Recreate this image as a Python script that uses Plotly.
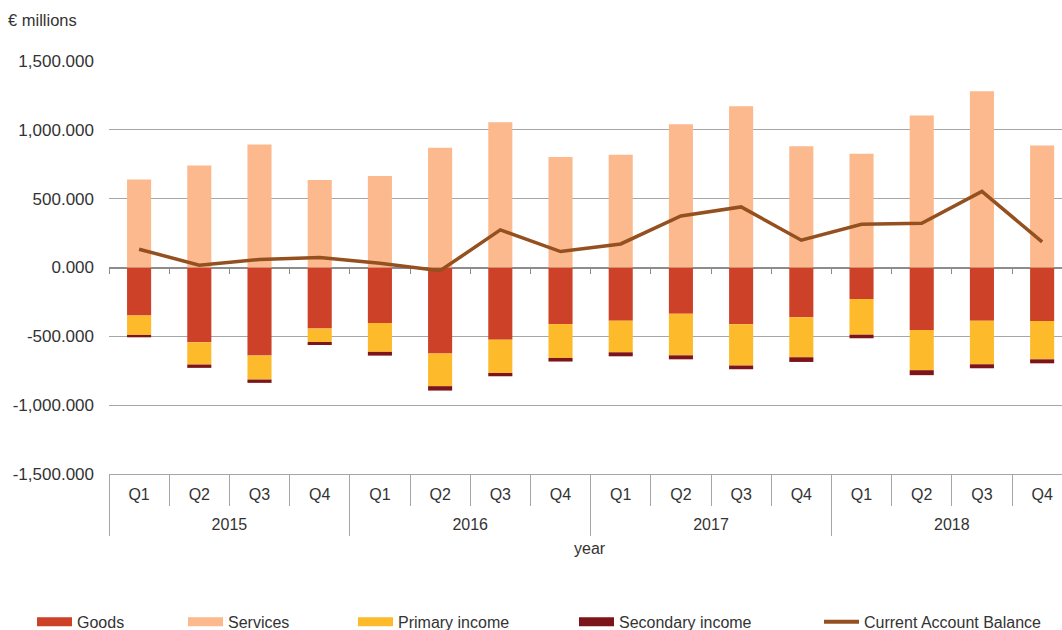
import plotly.graph_objects as go

years = ["2015", "2016", "2017", "2018"]
quarters = ["Q1", "Q2", "Q3", "Q4"]
categories = [f"{y} {q}" for y in years for q in quarters]
quarter_labels = [q for y in years for q in quarters]

goods = [-348, -543, -640, -444, -403, -625, -524, -411, -386, -336, -413, -362, -229, -454, -386, -389]
services = [640, 741, 894, 635, 664, 869, 1055, 802, 819, 1041, 1171, 881, 826, 1104, 1280, 886]
primary_income = [-142, -162, -174, -97, -210, -237, -242, -246, -230, -302, -299, -290, -259, -292, -317, -278]
secondary_income = [-17, -24, -24, -22, -27, -32, -24, -26, -29, -29, -27, -34, -26, -36, -29, -29]
current_account = [133, 17, 58, 72, 31, -24, 273, 116, 171, 374, 440, 198, 314, 321, 553, 186]

y_ticks = [-1500, -1000, -500, 0, 500, 1000, 1500]
y_ticktext = ["-1,500.000", "-1,000.000", "-500.000", "0.000", "500.000", "1,000.000", "1,500.000"]

C_GOODS = "#CC4127"
C_SERV = "#FCB98D"
C_PRIM = "#FDBB2C"
C_SEC = "#7D1419"
C_LINE = "#95501F"
FONT = "Liberation Sans, Arial, sans-serif"
TXT = "#333333"
GRID = "#A6A6A6"

XR = [-0.5, 15.33]
fig = go.Figure()
for name, vals, col in [("Goods", goods, C_GOODS), ("Services", services, C_SERV),
                        ("Primary income", primary_income, C_PRIM),
                        ("Secondary income", secondary_income, C_SEC)]:
    fig.add_trace(go.Bar(x=categories, y=vals, name=name,
                         marker=dict(color=col, line=dict(width=0)), showlegend=False))
fig.add_trace(go.Scatter(x=categories, y=current_account, name="Current Account Balance",
                         mode="lines", line=dict(color=C_LINE, width=3.5), showlegend=False))

# legend entries (wide swatches), each placed like the reference
W = 953.0
legend_items = [("Goods", C_GOODS, 9, 38), ("Services", C_SERV, 9, 189),
                ("Primary income", C_PRIM, 9, 359), ("Secondary income", C_SEC, 9, 580),
                ("Current Account Balance", C_LINE, 4, 825)]
layout_legends = {}
for i, (name, col, lw, px) in enumerate(legend_items):
    key = "legend" if i == 0 else f"legend{i+1}"
    fig.add_trace(go.Scatter(x=[None], y=[None], xaxis="x2", name=name, mode="lines",
                             line=dict(color=col, width=lw), legend=key, showlegend=True))
    layout_legends[key] = dict(x=(px - 6 - 109) / W, xanchor="left", y=-0.317, yanchor="top",
                               orientation="h", font=dict(family=FONT, size=16, color=TXT),
                               bgcolor="rgba(0,0,0,0)", itemwidth=35)

year_centres = [i * 4 + 1.5 for i in range(len(years))]

fig.update_layout(
    width=1062, height=630,
    margin=dict(l=109, r=0, t=61, b=156, autoexpand=False),
    paper_bgcolor="white", plot_bgcolor="white",
    barmode="relative", bargap=0.6,
    font=dict(family=FONT, size=16, color=TXT),
    **layout_legends,
    # quarter labels
    xaxis=dict(type="category", range=XR, showgrid=False, tickmode="array",
               tickvals=categories, ticktext=quarter_labels, ticks="",
               showline=True, linecolor=GRID, linewidth=1, ticklabelstandoff=6,
               tickfont=dict(family=FONT, size=16, color=TXT)),
    # quarter separators
    xaxis2=dict(overlaying="x", anchor="free", position=0, range=XR,
                tickmode="linear", tick0=-0.5, dtick=1, ticks="outside", ticklen=31,
                tickcolor=GRID, showticklabels=False, showgrid=False, zeroline=False, showline=False),
    # year separators
    xaxis3=dict(overlaying="x", anchor="free", position=0, range=XR,
                tickmode="linear", tick0=-0.5, dtick=4, ticks="outside", ticklen=61,
                tickcolor=GRID, showticklabels=False, showgrid=False, zeroline=False, showline=False),
    # year labels
    xaxis4=dict(overlaying="x", anchor="free", position=0, range=XR,
                tickmode="array", tickvals=year_centres, ticktext=years, ticks="",
                ticklabelstandoff=39, showgrid=False, zeroline=False, showline=False,
                tickfont=dict(family=FONT, size=16, color=TXT)),
    # ticks on the zero line
    xaxis5=dict(overlaying="x", anchor="free", position=0.5, range=XR,
                tickmode="linear", tick0=-0.5, dtick=1, ticks="outside", ticklen=5,
                tickcolor="#8C8C8C", showticklabels=False, showgrid=False,
                zeroline=False, showline=False),
    yaxis=dict(range=[-1500, 1500], tickmode="array", tickvals=y_ticks, ticktext=y_ticktext,
               showgrid=True, gridcolor=GRID, gridwidth=1,
               zeroline=True, zerolinecolor="#8C8C8C", zerolinewidth=1.5,
               ticklabelstandoff=14, tickfont=dict(family=FONT, size=17, color=TXT)),
    annotations=[
        dict(text="€ millions", xref="paper", yref="paper", x=(6 - 109) / W, y=(474 - 20) / 413,
             xanchor="left", yanchor="middle", showarrow=False,
             font=dict(family=FONT, size=16.5, color=TXT)),
        dict(text="year", xref="paper", yref="paper", x=(590 - 109) / W, y=(474 - 548) / 413,
             xanchor="center", yanchor="middle", showarrow=False,
             font=dict(family=FONT, size=16, color=TXT)),
    ],
)

# axes 3-5 need a (blank) trace to be drawn
for ax in ["x3", "x4", "x5"]:
    fig.add_trace(go.Scatter(x=[None], y=[None], xaxis=ax, showlegend=False, hoverinfo="skip"))

fig.write_html("out.html", config={"displayModeBar": False},
               post_script="document.body.style.margin='0';document.body.style.overflow='hidden';")
